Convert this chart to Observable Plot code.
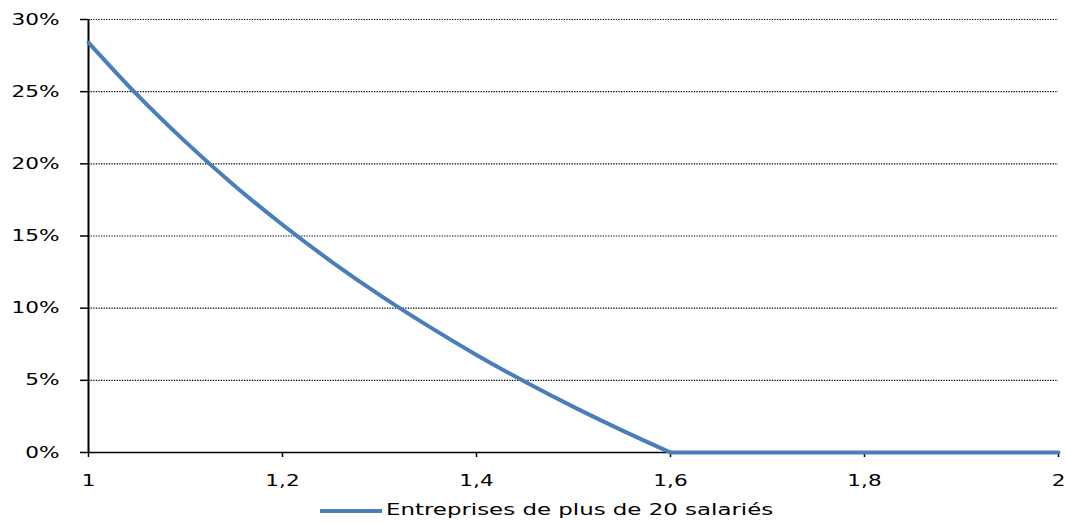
<!DOCTYPE html>
<html><head><meta charset="utf-8">
<script src="https://cdn.jsdelivr.net/npm/d3@7"></script>
<script src="https://cdn.jsdelivr.net/npm/@observablehq/plot@0.6"></script>
<style>
body{margin:0;background:#fff;font-family:"DejaVu Sans",sans-serif;}
#legend{position:relative;height:29px;width:1065px;}
#legend .sw{position:absolute;left:320px;top:14px;width:62px;height:4px;background:#4a7ebb;}
#legend .lb{position:absolute;left:386px;top:6px;font-size:16px;line-height:18px;white-space:nowrap;transform:scaleX(1.43);transform-origin:left center;color:#000;}
</style>
</head><body>
<div id="chart"></div>
<div id="legend"><span class="sw"></span><span class="lb" id="lb"></span></div>
<script>
// decreasing part (ratio 1 to 1.6)
const ratio = [1, 1.05, 1.1, 1.15, 1.2, 1.25, 1.3, 1.35, 1.4, 1.45, 1.5, 1.55, 1.6];
const taux  = [28.4, 24.79, 21.52, 18.52, 15.78, 13.25, 10.92, 8.77, 6.76, 4.9, 3.16, 1.53, 0];
// flat part (ratio 1.6 to 2)
const ratioFlat = [1.6, 1.8, 2];
const tauxFlat  = [0, 0, 0];
const xTicks = [1, 1.2, 1.4, 1.6, 1.8, 2];
const xTickLabels = ["1", "1,2", "1,4", "1,6", "1,8", "2"];
const yTicks = [0, 5, 10, 15, 20, 25, 30];
const yTickLabels = ["0%", "5%", "10%", "15%", "20%", "25%", "30%"];
const seriesName = "Entreprises de plus de 20 salariés";

const data = ratio.map((r, i) => ({r, t: taux[i]}));
const dataFlat = ratioFlat.map((r, i) => ({r, t: tauxFlat[i]}));

const plot = Plot.plot({
  width: 1065, height: 495,
  marginTop: 19, marginBottom: 43, marginLeft: 88, marginRight: 7,
  style: {fontFamily: "DejaVu Sans", fontSize: "16px", color: "#000", background: "#fff", overflow: "visible"},
  x: {domain: [1, 2]},
  y: {domain: [0, 30]},
  marks: [
    Plot.ruleY(yTicks.filter(d => d > 0), {stroke: "#000", strokeDasharray: "1.3,1.3", strokeWidth: 1.1}),
    Plot.axisY({ticks: yTicks, tickFormat: d => yTickLabels[yTicks.indexOf(d)], tickSize: 8, tickPadding: 21, label: null, strokeWidth: 1.5, fontSize: 16}),
    Plot.axisX({ticks: xTicks, tickFormat: d => xTickLabels[xTicks.indexOf(d)], tickSize: 5, tickPadding: 17, label: null, strokeWidth: 1.5, fontSize: 16}),
    Plot.ruleX([1], {y1: 0, y2: 30, stroke: "#000", strokeWidth: 2}),
    Plot.ruleY([0], {stroke: "#000", strokeWidth: 1.5}),
    Plot.line(data, {x: "r", y: "t", stroke: "#4a7ebb", strokeWidth: 4, curve: "catmull-rom"}),
    Plot.line(dataFlat, {x: "r", y: "t", stroke: "#4a7ebb", strokeWidth: 4, curve: "linear"})
  ]
});
document.getElementById("chart").appendChild(plot);
// widen the tick label glyphs like the original
plot.querySelectorAll('g[aria-label$="tick label"] text').forEach(t => {
  const tr = t.getAttribute("transform") || "";
  let x = t.getAttribute("x"), y = t.getAttribute("y");
  let pre = tr;
  if (x !== null && !isNaN(+x)) { pre += ` translate(${x},0)`; t.removeAttribute("x"); }
  if (y !== null && !isNaN(+y)) { pre += ` translate(0,${y})`; t.removeAttribute("y"); }
  t.setAttribute("transform", pre + " scale(1.35,1)");
});
document.getElementById("lb").textContent = seriesName;
</script>
</body></html>
